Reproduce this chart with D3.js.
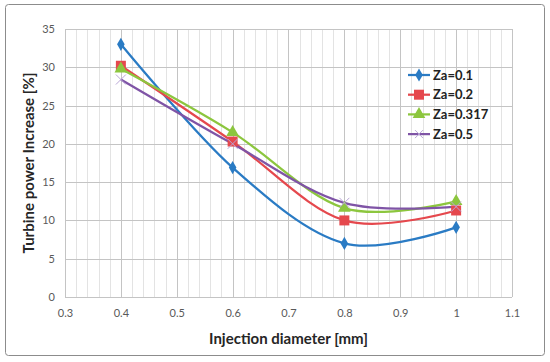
<!DOCTYPE html>
<html>
<head>
<meta charset="utf-8">
<script src="https://cdn.jsdelivr.net/npm/d3@7"></script>
<style>
  body { margin: 0; background: #fff; }
  text { font-family: Lato, "Open Sans", sans-serif; }
</style>
</head>
<body>
<div id="chart"></div>
<script>
// values
const diameters = [0.4, 0.6, 0.8, 1.0];
const seriesNames = ['Za=0.1', 'Za=0.2', 'Za=0.317', 'Za=0.5'];
const za01 = [33.0, 16.9, 7.0, 9.1];
const za02 = [30.2, 20.3, 10.0, 11.3];
const za0317 = [29.8, 21.5, 11.6, 12.5];
const za05 = [28.4, 20.0, 12.3, 11.8];
const xTicks = [0.3, 0.4, 0.5, 0.6, 0.7, 0.8, 0.9, 1, 1.1];
const yTicks = [0, 5, 10, 15, 20, 25, 30, 35];

const colors = ['#2a7bc4', '#e5484d', '#8cc63e', '#7f54a6'];
const symbols = ['diamond', 'square', 'triangle', 'cross'];
const allValues = [za01, za02, za0317, za05];

const W = 550, H = 362;
const margin = { top: 29, right: 38, bottom: 65, left: 65 };
const width = W - margin.left - margin.right;
const height = H - margin.top - margin.bottom;

const svg = d3.select('#chart').append('svg')
  .attr('width', W)
  .attr('height', H);

// outer chart border
svg.append('rect')
  .attr('x', 5.5).attr('y', 4.5)
  .attr('width', 539).attr('height', 351)
  .attr('rx', 3)
  .attr('fill', '#fff')
  .attr('stroke', '#8c8c8c');

const g = svg.append('g').attr('transform', 'translate(' + margin.left + ',' + margin.top + ')');

const x = d3.scaleLinear().domain([0.3, 1.1]).range([0, width]);
const y = d3.scaleLinear().domain([0, 35]).range([height, 0]);

// minor vertical grid every 0.02
const minor = d3.range(0, 41).map(i => 0.3 + i * 0.02);
g.append('g').selectAll('line')
  .data(minor)
  .enter().append('line')
  .attr('x1', d => Math.round(x(d)) + 0.5)
  .attr('x2', d => Math.round(x(d)) + 0.5)
  .attr('y1', 0).attr('y2', height)
  .attr('stroke', '#e3e3e3');

// major grid
g.append('g').selectAll('line')
  .data(xTicks)
  .enter().append('line')
  .attr('x1', d => Math.round(x(d)) + 0.5)
  .attr('x2', d => Math.round(x(d)) + 0.5)
  .attr('y1', 0).attr('y2', height)
  .attr('stroke', '#c4c4c4');

g.append('g').selectAll('line')
  .data(yTicks)
  .enter().append('line')
  .attr('x1', 0).attr('x2', width)
  .attr('y1', d => Math.round(y(d)) + 0.5)
  .attr('y2', d => Math.round(y(d)) + 0.5)
  .attr('stroke', '#c4c4c4');

// axes
const xAxis = g.append('g')
  .attr('transform', 'translate(0,' + height + ')')
  .call(d3.axisBottom(x).tickValues(xTicks).tickSize(0).tickPadding(12).tickFormat(d3.format('')));
const yAxis = g.append('g')
  .call(d3.axisLeft(y).tickValues(yTicks).tickSize(0).tickPadding(10));
[xAxis, yAxis].forEach(a => {
  a.select('.domain').remove();
  a.selectAll('text').attr('fill', '#595959').style('font-size', '11px').style('font-family', 'Lato, sans-serif');
});

// lines
const line = d3.line()
  .x((d, i) => x(diameters[i]))
  .y(d => y(d))
  .curve(d3.curveCatmullRom.alpha(0));

allValues.forEach((vals, s) => {
  g.append('path')
    .datum(vals)
    .attr('d', line)
    .attr('fill', 'none')
    .attr('stroke', colors[s])
    .attr('stroke-width', 2.25);
});

function marker(sel, s, size) {
  if (symbols[s] === 'cross') {
    const r = size;
    sel.append('path')
      .attr('d', `M${-r},${-r}L${r},${r}M${-r},${r}L${r},${-r}`)
      .attr('stroke', '#b9a6d6')
      .attr('stroke-width', 1)
      .attr('fill', 'none');
  } else {
    const t = symbols[s] === 'diamond' ? d3.symbolDiamond : symbols[s] === 'square' ? d3.symbolSquare : d3.symbolTriangle;
    const area = symbols[s] === 'square' ? 100 : symbols[s] === 'diamond' ? 50 : 70;
    sel.append('path')
      .attr('d', d3.symbol().type(t).size(area))
      .attr('fill', colors[s]);
  }
}

allValues.forEach((vals, s) => {
  vals.forEach((v, i) => {
    const m = g.append('g').attr('transform', 'translate(' + x(diameters[i]) + ',' + y(v) + ')');
    marker(m, s, 5);
  });
});

// legend
const legend = svg.append('g').attr('transform', 'translate(408,75)');
seriesNames.forEach((name, s) => {
  const row = legend.append('g').attr('transform', 'translate(0,' + (s * 19.7) + ')');
  row.append('line')
    .attr('x1', 0).attr('x2', 22)
    .attr('stroke', colors[s]).attr('stroke-width', 2.25);
  const m = row.append('g').attr('transform', 'translate(11,0)');
  marker(m, s, 4);
  row.append('text')
    .attr('x', 25).attr('y', 0)
    .attr('dy', '0.35em')
    .style('font-size', '13px')
    .style('font-weight', 'bold')
    .attr('fill', '#222')
    .text(name);
});

// axis titles
svg.append('text')
  .attr('x', margin.left + width / 2)
  .attr('y', 344)
  .attr('text-anchor', 'middle')
  .style('font-size', '15px')
  .style('font-weight', 'bold')
  .attr('fill', '#262626')
  .text('Injection diameter [mm]');

svg.append('text')
  .attr('transform', 'translate(34,' + (margin.top + height / 2) + ') rotate(-90)')
  .attr('text-anchor', 'middle')
  .style('font-size', '15px')
  .style('font-weight', 'bold')
  .attr('fill', '#262626')
  .text('Turbine power Increase [%]');
</script>
</body>
</html>
